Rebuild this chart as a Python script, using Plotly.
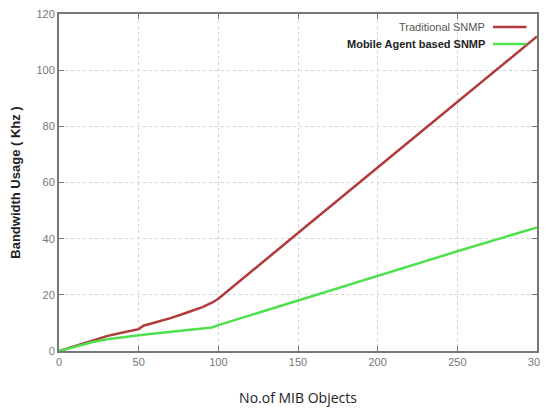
import plotly.graph_objects as go

mib_objects = [0, 10, 20, 30, 40, 50, 53, 60, 70, 80, 90, 96, 100, 150, 200, 250, 300]
traditional_snmp = [0, 1.8, 3.6, 5.3, 6.6, 7.8, 9.0, 10.0, 11.7, 13.6, 15.6, 17.2, 18.6, 42.0, 65.4, 88.8, 112.0]
mobile_agent_snmp = [0, 1.5, 3.0, 4.2, 5.0, 5.6, 5.8, 6.2, 6.8, 7.4, 8.0, 8.4, 9.2, 18.0, 26.8, 35.5, 44.0]

x_ticks = [0, 50, 100, 150, 200, 250, 300]
y_ticks = [0, 20, 40, 60, 80, 100, 120]

series_names = ["Traditional SNMP", "Mobile Agent based SNMP"]
series_colors = ["#b03a3c", "#4fe04f"]

fig = go.Figure()
for name, vals, col in zip(series_names, [traditional_snmp, mobile_agent_snmp], series_colors):
    fig.add_trace(go.Scatter(x=mib_objects, y=vals, mode="lines", name=name,
                             line=dict(color=col, width=2.5), showlegend=False))

axis_common = dict(showgrid=True, gridcolor="#d2d2d2", griddash="dot", gridwidth=1,
                   ticks="inside", ticklen=5, tickcolor="#777", mirror="ticks",
                   showline=True, linecolor="#777", linewidth=2, zeroline=False,
                   automargin=False, ticklabeloverflow="allow",
                   tickfont=dict(family="Liberation Sans", size=11, color="#777"))

fig.update_xaxes(range=[0, 300], tickvals=x_ticks, **axis_common,
                 title=dict(text="No.of MIB Objects", standoff=26,
                            font=dict(family="Open Sans", size=14, color="#222")))
fig.update_yaxes(range=[0, 120], tickvals=y_ticks, **axis_common,
                 title=dict(text="<b>Bandwidth Usage ( Khz )</b>", standoff=20,
                            font=dict(family="Liberation Sans", size=13, color="#222")))

# legend entries: text then line sample, as in the reference
legend_rows = [0.9615, 0.911]
text_fonts = [dict(family="Liberation Sans", size=11, color="#555"),
              dict(family="Liberation Sans", size=11, color="#222")]
for name, col, yy, fnt, bold in zip(series_names, series_colors, legend_rows, text_fonts, [False, True]):
    fig.add_annotation(xref="paper", yref="paper", x=0.895, y=yy, xanchor="right", yanchor="middle",
                       text=("<b>%s</b>" % name) if bold else name, showarrow=False, font=fnt)
    fig.add_shape(type="line", xref="paper", yref="paper", x0=0.908, x1=0.978, y0=yy, y1=yy,
                  line=dict(color=col, width=2.5))

# the page body adds an 8px offset, so the figure is sized to fit the window
fig.update_layout(width=540, height=406, margin=dict(l=51, r=11, t=6, b=63),
                  paper_bgcolor="white", plot_bgcolor="white")

fig.write_html("out.html")
